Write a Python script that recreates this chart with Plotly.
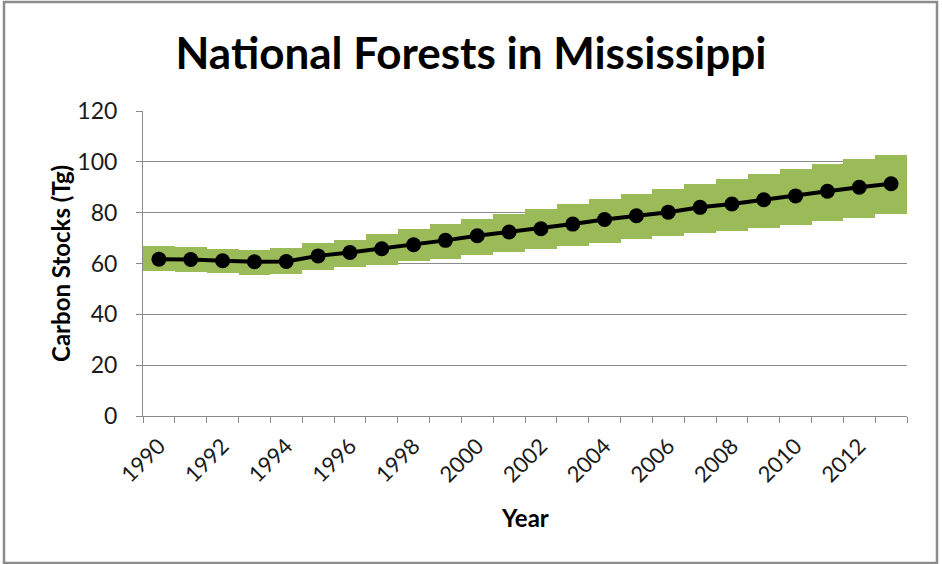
import plotly.graph_objects as go

years = list(range(1990, 2014))
mean_stock = [61.7, 61.6, 61.1, 60.7, 60.8, 63.0, 64.3, 65.8, 67.4, 69.1, 70.9, 72.4,
              73.7, 75.5, 77.3, 78.8, 80.2, 82.1, 83.4, 85.1, 86.6, 88.4, 90.0, 91.4]
upper_ci = [67.0, 66.5, 65.8, 65.4, 66.1, 68.0, 69.4, 71.5, 73.5, 75.5, 77.5, 79.5,
            81.5, 83.4, 85.4, 87.4, 89.4, 91.3, 93.3, 95.3, 97.3, 99.2, 101.2, 102.5]
lower_ci = [57.2, 56.6, 56.2, 55.5, 55.8, 57.4, 58.7, 59.6, 60.8, 61.8, 63.4, 64.6,
            65.6, 66.9, 67.9, 69.7, 70.8, 72.1, 72.8, 74.1, 75.3, 76.8, 77.8, 79.4]
label_years = years[::2]
y_ticks = [0, 20, 40, 60, 80, 100, 120]

W, H = 942, 564
L, R, T, B = 143, 35, 111, 148
pw, ph = W - L - R, H - T - B

FONT = "Lato"
GRAY = "#8a8a8a"

fig = go.Figure()
fig.add_trace(go.Bar(
    x=years, y=[u - l for u, l in zip(upper_ci, lower_ci)], base=lower_ci,
    width=1.0, marker=dict(color="#9BBB59", line=dict(width=0)),
    xaxis="x", yaxis="y", hoverinfo="skip", showlegend=False,
))
fig.add_trace(go.Scatter(
    x=years, y=mean_stock, mode="lines+markers",
    line=dict(color="black", width=4),
    marker=dict(color="black", size=15),
    xaxis="x2", yaxis="y", showlegend=False,
))

xr = [years[0] - 0.5, years[-1] + 0.5]
fig.update_layout(
    width=W, height=H,
    margin=dict(l=L, r=R, t=T, b=B),
    paper_bgcolor="white", plot_bgcolor="white",
    font=dict(family=FONT, color="#1a1a1a"),
    title=dict(text="<b>National Forests in Mississippi</b>", x=0.5, xref="container",
               xanchor="center", y=1 - 54 / H, yref="container", yanchor="middle",
               font=dict(family=FONT, size=44, color="black")),
    bargap=0,
    xaxis=dict(range=xr, tickmode="array", tickvals=label_years,
               ticktext=[str(y) for y in label_years], tickangle=-45,
               ticks="", showgrid=False, showline=False, zeroline=False,
               ticklabelstandoff=12,
               tickfont=dict(size=22, color="#1a1a1a")),
    xaxis2=dict(range=xr, overlaying="x", side="bottom", tickmode="array",
                tickvals=[y - 0.5 for y in years] + [years[-1] + 0.5],
                ticks="outside", ticklen=6, tickcolor=GRAY, showticklabels=False,
                showgrid=False, showline=True, linecolor=GRAY, linewidth=1,
                zeroline=False),
    yaxis=dict(range=[0, 120], tickmode="array", tickvals=y_ticks,
               ticks="outside", ticklen=6, tickcolor=GRAY, ticklabelstandoff=14,
               showgrid=True, gridcolor=GRAY, gridwidth=1,
               showline=True, linecolor=GRAY, linewidth=1, zeroline=False,
               tickfont=dict(size=23, color="#1a1a1a")),
    annotations=[
        dict(text="<b>Carbon Stocks (Tg)</b>", textangle=-90, showarrow=False,
             xref="paper", yref="paper", x=(60 - L) / pw, y=(H - B - 264) / ph,
             xanchor="center", yanchor="middle",
             font=dict(family=FONT, size=24, color="black")),
        dict(text="<b>Year</b>", showarrow=False,
             xref="paper", yref="paper", x=(525 - L) / pw, y=(H - B - 517) / ph,
             xanchor="center", yanchor="middle",
             font=dict(family=FONT, size=24, color="black")),
    ],
    shapes=[dict(type="rect", xref="paper", yref="paper",
                 x0=(4 - L) / pw, x1=(937 - L) / pw,
                 y0=(H - B - 563) / ph, y1=(H - B - 2) / ph,
                 line=dict(color="#8c8c8c", width=2.5), fillcolor="rgba(0,0,0,0)")],
)

fig.write_html("out.html", config={"displayModeBar": False},
               post_script="document.body.style.margin='0px';")
